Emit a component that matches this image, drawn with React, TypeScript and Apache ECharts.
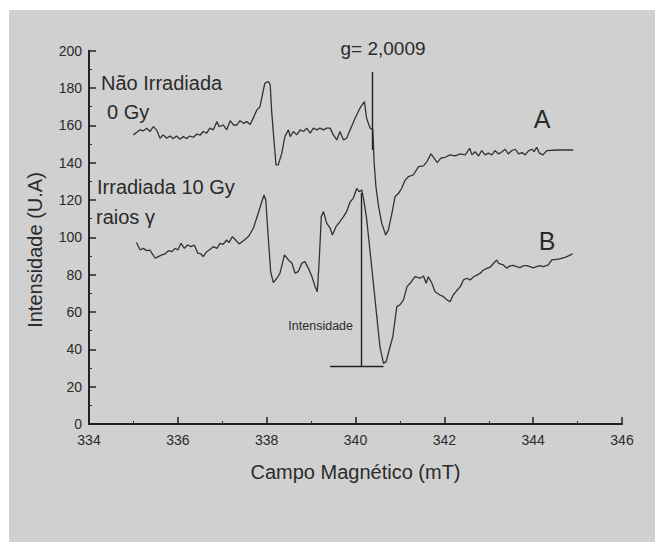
import React, { useEffect, useRef } from "react";
import * as echarts from "echarts";

// Magnetic field (mT) and intensity (U.A)
const fieldA = [
  335.0, 335.15, 335.22, 335.3, 335.37, 335.45, 335.52, 335.6, 335.67, 335.75, 335.82, 335.9, 335.97,
  336.05, 336.12, 336.2, 336.27, 336.35, 336.43, 336.5, 336.57, 336.65, 336.72, 336.8, 336.88, 336.93,
  337.02, 337.1, 337.18, 337.25, 337.33, 337.4, 337.48, 337.55, 337.63, 337.7, 337.78, 337.85, 337.91,
  337.96, 338.04, 338.08, 338.11, 338.17, 338.21, 338.26, 338.34, 338.41, 338.49, 338.53, 338.6, 338.68,
  338.75, 338.83, 338.9, 338.98, 339.05, 339.13, 339.2, 339.28, 339.35, 339.43, 339.5, 339.58, 339.65,
  339.73, 339.8, 339.88, 339.99, 340.1, 340.2, 340.25, 340.33, 340.39, 340.42, 340.46, 340.52, 340.59,
  340.68, 340.74, 340.82, 340.89, 340.97, 341.04, 341.12, 341.19, 341.3, 341.42, 341.53, 341.61, 341.7,
  341.77, 341.84, 341.92, 342.02, 342.13, 342.24, 342.36, 342.47, 342.57, 342.62, 342.69, 342.77, 342.84,
  342.92, 342.99, 343.07, 343.14, 343.22, 343.3, 343.37, 343.44, 343.52, 343.6, 343.67, 343.75, 343.82,
  343.9, 343.97, 344.02, 344.08, 344.14, 344.22, 344.31, 344.53, 344.9,
];
const intensityA = [
  154.9, 157.6, 157.0, 158.5, 156.7, 159.3, 157.6, 153.1, 154.9, 153.1, 154.3, 152.9, 154.3,
  152.6, 154.0, 152.9, 154.3, 153.6, 155.4, 154.7, 156.7, 155.8, 158.5, 157.6, 162.0, 159.3,
  160.2, 157.6, 162.5, 160.2, 160.2, 162.5, 161.1, 162.0, 160.5, 164.0, 168.3, 170.0, 177.2,
  182.6, 183.5, 181.7, 168.3, 150.4, 138.8, 138.8, 145.0, 154.0, 157.6, 154.0, 156.7, 154.9,
  157.6, 156.7, 158.5, 155.8, 158.5, 157.6, 158.5, 157.6, 158.5, 158.5, 154.9, 152.2, 156.7,
  152.2, 153.1, 157.6, 163.8, 169.2, 172.7, 163.8, 158.5, 157.6, 140.0, 127.2, 116.5, 107.6,
  101.3, 104.0, 112.9, 121.8, 123.6, 126.3, 130.8, 132.5, 133.4, 137.9, 138.3, 140.6, 144.7,
  142.4, 140.0, 142.4, 142.9, 144.2, 143.6, 144.7, 144.2, 147.7, 144.2, 145.9, 143.6, 146.5,
  144.2, 145.1, 144.2, 146.5, 144.7, 145.9, 147.2, 144.7, 146.5, 147.2, 144.7, 145.4, 144.2,
  146.5, 147.2, 145.9, 148.2, 145.1, 144.2, 146.5, 146.8, 146.8,
];

const fieldB = [
  335.07, 335.15, 335.22, 335.3, 335.37, 335.49, 335.56, 335.64, 335.71, 335.79, 335.86, 335.94, 336.0,
  336.07, 336.15, 336.22, 336.3, 336.37, 336.45, 336.52, 336.57, 336.65, 336.73, 336.8, 336.88, 336.95,
  337.02, 337.1, 337.15, 337.23, 337.3, 337.38, 337.48, 337.59, 337.7, 337.81, 337.89, 337.94, 337.98,
  338.04, 338.09, 338.15, 338.23, 338.3, 338.4, 338.49, 338.57, 338.64, 338.71, 338.79, 338.86, 338.94,
  339.02, 339.09, 339.14, 339.18, 339.23, 339.28, 339.35, 339.43, 339.48, 339.56, 339.65, 339.73, 339.8,
  339.88, 339.95, 340.03, 340.08, 340.14, 340.18, 340.25, 340.33, 340.4, 340.48, 340.55, 340.63, 340.69,
  340.74, 340.84, 340.93, 341.0, 341.08, 341.16, 341.23, 341.34, 341.45, 341.53, 341.59, 341.64, 341.72,
  341.79, 341.9, 341.98, 342.06, 342.13, 342.2, 342.28, 342.36, 342.43, 342.51, 342.58, 342.66, 342.73,
  342.81, 342.88, 342.96, 343.03, 343.11, 343.18, 343.22, 343.33, 343.4, 343.48, 343.55, 343.63, 343.7,
  343.78, 343.85, 343.93, 344.0, 344.08, 344.15, 344.23, 344.34, 344.42, 344.57, 344.72, 344.89,
];
const intensityB = [
  97.2, 93.2, 94.1, 92.9, 93.2, 88.8, 89.7, 90.6, 91.1, 92.9, 92.3, 94.1, 93.2,
  96.8, 94.1, 95.9, 95.0, 95.9, 91.5, 91.1, 89.7, 92.3, 93.6, 95.0, 94.1, 96.8,
  96.3, 98.6, 97.2, 100.4, 98.6, 96.5, 98.2, 100.4, 104.9, 112.9, 119.1, 122.7, 120.0,
  98.6, 81.6, 75.7, 78.1, 80.8, 90.6, 87.9, 86.1, 80.8, 81.6, 86.1, 87.0, 83.4,
  78.9, 73.6, 70.9, 86.1, 111.1, 113.8, 107.6, 104.9, 101.3, 105.7, 108.4, 111.1, 113.8,
  119.1, 120.9, 126.3, 124.5, 125.4, 120.9, 110.0, 92.0, 76.0, 57.5, 41.4, 32.5, 33.4,
  37.9, 46.8, 62.9, 63.8, 66.5, 73.6, 75.4, 78.9, 78.1, 79.3, 75.4, 78.9, 75.4,
  70.9, 69.1, 68.2, 66.5, 65.5, 69.1, 71.5, 73.6, 77.2, 78.1, 77.2, 78.9, 79.8,
  80.8, 82.5, 83.4, 84.0, 86.1, 87.9, 86.1, 85.2, 83.5, 84.7, 85.0, 84.3, 83.8,
  84.8, 84.9, 84.3, 83.6, 84.3, 84.8, 84.3, 85.2, 87.9, 88.3, 89.3, 91.1,
];

// Annotation lines (data coordinates)
const gLineField = 340.37;
const gLineRange = [188.6, 146.8];
const heightLineField = 340.12;
const heightLineRange = [123.8, 30.7];
const baseLineField = [339.43, 340.63];
const baseLineLevel = 30.7;

// Axis ticks
const fieldMin = 334;
const fieldMax = 346;
const fieldStep = 2;
const intensityMin = 0;
const intensityMax = 200;
const intensityStep = 20;

const FONT = "'Liberation Sans', Arial, Helvetica, sans-serif";
const INK = "#2b2b2b";

export default function App() {
  const ref = useRef<HTMLDivElement>(null);

  useEffect(() => {
    if (!ref.current) return;
    const chart = echarts.init(ref.current, null, { renderer: "svg" });

    const pairs = (xs: number[], ys: number[]) => xs.map((x, i) => [x, ys[i]]);
    const lineStyle = { color: "#333", width: 1.3, type: "solid" as const };
    const markCommon = {
      symbol: "none",
      silent: true,
      label: { show: false },
      emphasis: { disabled: true },
      lineStyle: { color: "#222", width: 1.4, type: "solid" },
    };

    const txt = (text: string, x: number, y: number, size: number, align = "left", extra: any = {}) => ({
      type: "text",
      x,
      y,
      z: 10,
      silent: true,
      ...extra,
      style: {
        text,
        font: `${size}px ${FONT}`,
        fill: INK,
        align,
        textAlign: align,
        verticalAlign: "middle",
        textVerticalAlign: "middle",
      },
    });

    chart.setOption({
      animation: false,
      backgroundColor: "#ffffff",
      grid: { left: 89, right: 40, top: 50.7, bottom: 118, containLabel: false },
      xAxis: {
        type: "value",
        min: fieldMin,
        max: fieldMax,
        interval: fieldStep,
        name: "Campo Magnético (mT)",
        nameLocation: "middle",
        nameGap: 38,
        nameTextStyle: { fontFamily: FONT, fontSize: 20, color: INK },
        axisLine: { show: true, onZero: false, lineStyle: { color: "#222", width: 2 } },
        axisTick: { show: true, inside: true, length: 7, lineStyle: { color: "#222", width: 1.5 } },
        minorTick: { show: true, splitNumber: 2, length: 3, lineStyle: { color: "#333", width: 1 } },
        splitLine: { show: false },
        axisLabel: { fontFamily: FONT, fontSize: 14, color: INK, margin: 9 },
      },
      yAxis: {
        type: "value",
        min: intensityMin,
        max: intensityMax,
        interval: intensityStep,
        axisLine: { show: true, onZero: false, lineStyle: { color: "#222", width: 2 } },
        axisTick: { show: true, inside: true, length: 7, lineStyle: { color: "#222", width: 1.5 } },
        minorTick: { show: true, splitNumber: 2, length: 3, lineStyle: { color: "#333", width: 1 } },
        splitLine: { show: false },
        axisLabel: { fontFamily: FONT, fontSize: 14, color: INK, margin: 7 },
      },
      graphic: [
        {
          type: "rect",
          z: -10,
          silent: true,
          shape: { x: 9, y: 10, width: 646, height: 532 },
          style: { fill: "#d0d0d0" },
        },
        txt("Intensidade (U.A)", 35, 250, 20, "center", { rotation: Math.PI / 2 }),
        txt("g= 2,0009", 383, 48, 19, "center"),
        txt("Não Irradiada", 101, 83, 20),
        txt("0 Gy", 107, 112, 20),
        txt("Irradiada 10 Gy", 97, 187, 20),
        txt("raios γ", 96, 217, 20),
        txt("A", 542, 119, 25, "center"),
        txt("B", 547, 241, 25, "center"),
        txt("Intensidade", 353, 326, 12.5, "right"),
      ],
      series: [
        {
          name: "A",
          type: "line",
          data: pairs(fieldA, intensityA),
          showSymbol: false,
          symbol: "none",
          silent: true,
          lineStyle,
          markLine: {
            ...markCommon,
            data: [[{ coord: [gLineField, gLineRange[0]] }, { coord: [gLineField, gLineRange[1]] }]],
          },
        },
        {
          name: "B",
          type: "line",
          data: pairs(fieldB, intensityB),
          showSymbol: false,
          symbol: "none",
          silent: true,
          lineStyle,
          markLine: {
            ...markCommon,
            data: [
              [{ coord: [heightLineField, heightLineRange[0]] }, { coord: [heightLineField, heightLineRange[1]] }],
              [{ coord: [baseLineField[0], baseLineLevel] }, { coord: [baseLineField[1], baseLineLevel] }],
            ],
          },
        },
      ],
    });

    return () => chart.dispose();
  }, []);

  return <div ref={ref} style={{ position: "fixed", left: 0, top: 0, width: 662, height: 542 }} />;
}
